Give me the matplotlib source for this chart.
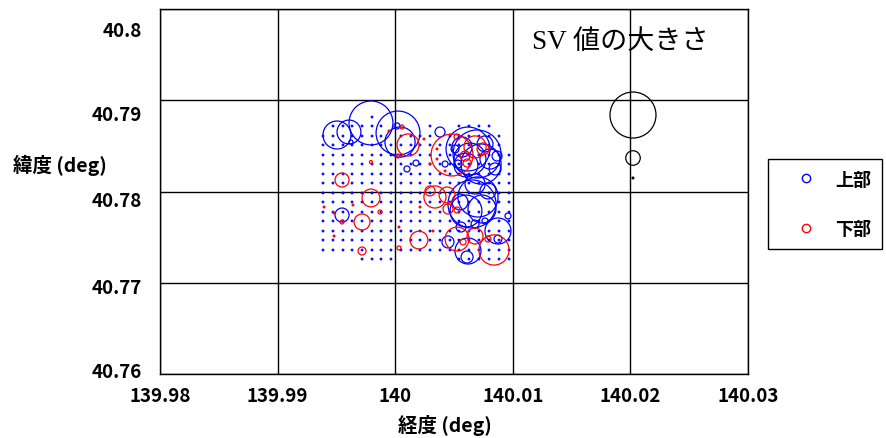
import matplotlib
matplotlib.use("Agg")
import matplotlib.pyplot as plt
import matplotlib.transforms as mtransforms
from matplotlib.lines import Line2D

# survey grid (lat rows shared by all columns)
grid_lat = [40.78816, 40.78718, 40.78608, 40.78510, 40.78400, 40.78301, 40.78192,
            40.78093, 40.77984, 40.77885, 40.77775, 40.77677, 40.77567, 40.77468,
            40.77359, 40.77260]
# (lon, first row, last row)
grid_cols = [(139.99386, 2, 14), (139.99471, 1, 14), (139.99556, 1, 14),
             (139.99633, 1, 14), (139.99718, 1, 15), (139.99803, 0, 15),
             (139.99879, 1, 15), (139.99964, 3, 15), (140.00049, 2, 14),
             (140.00134, 2, 14), (140.00211, 2, 14), (140.00296, 1, 14),
             (140.00381, 3, 14), (140.00466, 2, 14), (140.00542, 1, 15),
             (140.00627, 1, 15), (140.00712, 1, 15), (140.00798, 1, 15),
             (140.00883, 2, 15), (140.00968, 4, 15)]
grid_sv = 0.14

# 上部 SV values
up_lon = [139.99505, 139.99607, 139.99794, 140.00024, 140.00041, 140.00015, 139.99624,
          140.00177, 140.00100, 140.00381, 139.99548,
          140.00619, 140.00696, 140.00730, 140.00636, 140.00806, 140.00849, 140.00568,
          140.00764, 140.00866, 140.00509, 140.00534, 140.00424, 140.00602,
          140.00653, 140.00704, 140.00602, 140.00738, 140.00551, 140.00679, 140.00789,
          140.00874, 140.00959, 140.00874, 140.00619, 140.00611, 140.00449, 140.00560,
          140.00679, 140.00764]
up_lat = [40.78619, 40.78652, 40.78751, 40.78641, 40.78542, 40.78718, 40.78542,
          40.78312, 40.78247, 40.78652, 40.77742,
          40.78466, 40.78411, 40.78301, 40.78356, 40.78356, 40.78247, 40.78488,
          40.78521, 40.78389, 40.78466, 40.78301, 40.78301, 40.78290,
          40.77863, 40.77940, 40.77786, 40.77808, 40.77885, 40.78082, 40.78006,
          40.77567, 40.77732, 40.77479, 40.77348, 40.77282, 40.77447, 40.77611,
          40.77644, 40.77677]
up_sv = [37, 27, 91, 91, 43, 1.7, 0.76,
         1.7, 1.7, 4.7, 9.3,
         91, 109, 76, 48, 19, 6.8, 19,
         12, 4.7, 3.0, 3.0, 1.7, 27,
         109, 76, 48, 37, 12, 19, 12,
         32, 1.7, 3.0, 32, 6.8, 6.8, 4.7,
         3.0, 1.7]

# 下部 SV values
low_lon = [140.00109, 139.99548, 139.99794, 139.99718, 139.99718, 140.00202, 140.00032,
           139.99871, 139.99548, 140.00024, 139.99794, 140.00058,
           140.00483, 140.00679, 140.00594, 140.00611, 140.00526, 140.00747,
           140.00338, 140.00441, 140.00296, 140.00449, 140.00526,
           140.00526, 140.00679, 140.00840, 140.00577, 140.00789,
           139.99395, 139.99480, 139.99641, 139.99480, 140.00032, 140.00211,
           140.00321, 140.00355, 140.00355, 140.00424, 139.99947, 140.00296, 140.00245]
low_lat = [40.78510, 40.78126, 40.77929, 40.77666, 40.77348, 40.77468, 40.77381,
           40.77775, 40.77666, 40.78389, 40.78323, 40.78707,
           40.78400, 40.78488, 40.78389, 40.78312, 40.78597, 40.78466,
           40.77940, 40.77962, 40.78006, 40.77808, 40.77797,
           40.77479, 40.77512, 40.77359, 40.77447, 40.77479,
           40.77830, 40.77764, 40.77852, 40.77512, 40.77611, 40.77830,
           40.77567, 40.78466, 40.78356, 40.78225, 40.78663, 40.78301, 40.78575]
low_sv = [23, 9.3, 15, 12, 3.0, 15, 0.76,
          0.76, 0.76, 0.76, 0.43, 0.76,
          83, 23, 4.7, 3.0, 1.7, 6.8,
          23, 12, 4.7, 4.7, 1.7,
          27, 12, 43, 1.7, 1.7,
          0.14, 0.14, 0.14, 0.14, 0.14, 0.14,
          0.14, 0.14, 0.14, 0.14, 0.14, 0.14, 0.14]

# size scale bubbles
ref_lon = [140.02022, 140.02022, 140.02022]
ref_lat = [40.78838, 40.78367, 40.78148]
ref_sv = [100, 10, 0.15]

xticks = [139.98, 139.99, 140.00, 140.01, 140.02, 140.03]
xtick_labels = ["139.98", "139.99", "140", "140.01", "140.02", "140.03"]
yticks = [40.76, 40.77, 40.78, 40.79, 40.80]
ytick_labels = ["40.76", "40.77", "40.78", "40.79", "40.8"]

SIZE_K = 10.97
jp_family = ["Noto Sans CJK JP"]

fig = plt.figure(figsize=(8.87, 4.39), dpi=100)
ax = fig.add_axes([160 / 887, 64 / 439, 588 / 887, 365 / 439])

g_lon, g_lat = [], []
for lon, a, b in grid_cols:
    for lat in grid_lat[a:b + 1]:
        g_lon.append(lon)
        g_lat.append(lat)

lw = 0.9
ax.scatter(g_lon, g_lat, s=[grid_sv * SIZE_K] * len(g_lon), facecolors="none",
           edgecolors="#0000ff", linewidths=0.8, zorder=3)
ax.scatter(up_lon, up_lat, s=[v * SIZE_K for v in up_sv], facecolors="none",
           edgecolors="#0000ff", linewidths=lw, zorder=3)
ax.scatter(low_lon, low_lat, s=[v * SIZE_K for v in low_sv], facecolors="none",
           edgecolors="#ff0000", linewidths=lw, zorder=4)
ax.scatter(ref_lon, ref_lat, s=[v * SIZE_K for v in ref_sv], facecolors="none",
           edgecolors="black", linewidths=lw, zorder=4)

ax.set_xlim(139.98, 140.03)
ax.set_ylim(40.76, 40.80)
ax.set_xticks(xticks)
ax.set_xticklabels(xtick_labels)
ax.set_yticks(yticks)
ax.set_yticklabels(ytick_labels)
ax.grid(True, color="black", linewidth=1.0)
ax.set_axisbelow(True)
for sp in ax.spines.values():
    sp.set_color("black")
    sp.set_linewidth(1.0)
ax.tick_params(length=0)
ax.tick_params(axis="x", pad=9)
ax.tick_params(axis="y", pad=13)
for lab in ax.get_xticklabels() + ax.get_yticklabels():
    lab.set_fontfamily(jp_family)
    lab.set_fontweight("bold")
    lab.set_fontsize(13.5)

# nudge y tick labels downward
shifts = [3.6, -2.2, -5.0, -8.6, -13.7]
for lab, dy in zip(ax.get_yticklabels(), shifts):
    lab.set_transform(lab.get_transform() +
                      mtransforms.ScaledTranslation(0, dy / 72, fig.dpi_scale_trans))

ax.set_xlabel("経度 (deg)", fontsize=14, family=jp_family, weight="bold", va="center")
ax.xaxis.set_label_coords(0.485, -0.137)
ax.set_ylabel("緯度 (deg)", fontsize=14, family=jp_family, weight="bold",
              rotation=0, ha="center", va="center")
ax.yaxis.set_label_coords(-0.170, 0.575)

ax.text(0.632, 0.912, "SV 値の大きさ", transform=ax.transAxes, ha="left", va="center",
        fontsize=19.5, family=["Liberation Serif", "Noto Sans CJK JP"])

handles = [Line2D([], [], linestyle="none", marker="o", markersize=6,
                  markerfacecolor="none", markeredgecolor=c, markeredgewidth=1.0)
           for c in ("#0000ff", "#ff0000")]
fig.legend(handles, ["上部", "下部"], loc="center left",
           bbox_to_anchor=(768 / 887, (439 - 205) / 439), frameon=True, fancybox=False,
           edgecolor="black", framealpha=1, borderpad=0.6, labelspacing=1.7,
           handletextpad=0.1, handlelength=3.0, borderaxespad=0,
           prop={"family": jp_family, "weight": "bold", "size": 13})

fig.savefig("out.png", dpi=100)
